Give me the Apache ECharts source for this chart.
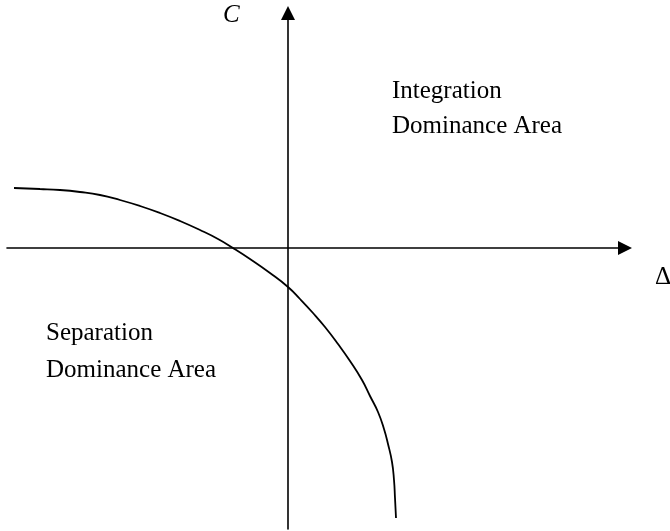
<!DOCTYPE html>
<html>
<head>
<meta charset="utf-8">
<script src="https://cdn.jsdelivr.net/npm/echarts@6/dist/echarts.min.js"></script>
<style>
  html, body { margin: 0; padding: 0; background: #fff; }
  #chart { width: 670px; height: 531px; }
</style>
</head>
<body>
<div id="chart"></div>
<script>
// boundary curve (origin = axis crossing)
var curveX = [-274, -248, -228, -208, -188, -168, -148, -128, -108, -88, -70, -55,
  -38, -18, 0, 12, 25, 37, 50, 62, 74, 82, 90, 96, 100, 104, 106, 107, 108];
var curveY = [60, 59, 58, 56, 53, 48, 42, 35, 27, 18, 9, 0,
  -11, -25, -39, -51, -65, -79, -96, -113, -132, -148, -164, -181, -196, -214, -232, -250, -270];

var xRange = [-281, 337];
var yRange = [-281, 235];

var FONT = '"Liberation Serif", "Times New Roman", serif';

var curveData = curveX.map(function (x, i) { return [x, curveY[i]]; });

var chart = echarts.init(document.getElementById('chart'));

var axisStyle = {
  show: true,
  onZero: true,
  symbol: ['none', 'triangle'],
  symbolSize: [14, 14],
  lineStyle: { color: '#000', width: 1.6 }
};

function label(text, x, baseline, italic) {
  return {
    type: 'text',
    left: x,
    top: baseline - 20,
    style: {
      text: text,
      font: (italic ? 'italic ' : '') + '25px ' + FONT,
      fill: '#000'
    }
  };
}

chart.setOption({
  animation: false,
  backgroundColor: '#fff',
  grid: {
    left: 7,
    right: 45,
    top: 13,
    bottom: 2,
    containLabel: false,
    outerBoundsMode: 'none'
  },
  xAxis: {
    type: 'value',
    min: xRange[0],
    max: xRange[1],
    axisLine: axisStyle,
    axisTick: { show: false },
    axisLabel: { show: false },
    splitLine: { show: false }
  },
  yAxis: {
    type: 'value',
    min: yRange[0],
    max: yRange[1],
    axisLine: axisStyle,
    axisTick: { show: false },
    axisLabel: { show: false },
    splitLine: { show: false }
  },
  series: [{
    type: 'line',
    data: curveData,
    smooth: 0.5,
    symbol: 'none',
    lineStyle: { color: '#000', width: 1.8 }
  }],
  graphic: [
    label('C', 223, 23, true),
    label('\u0394', 655, 285, false),
    label('Integration', 392, 99, false),
    label('Dominance Area', 392, 134, false),
    label('Separation', 46, 341, false),
    label('Dominance Area', 46, 378, false)
  ]
});
</script>
</body>
</html>
